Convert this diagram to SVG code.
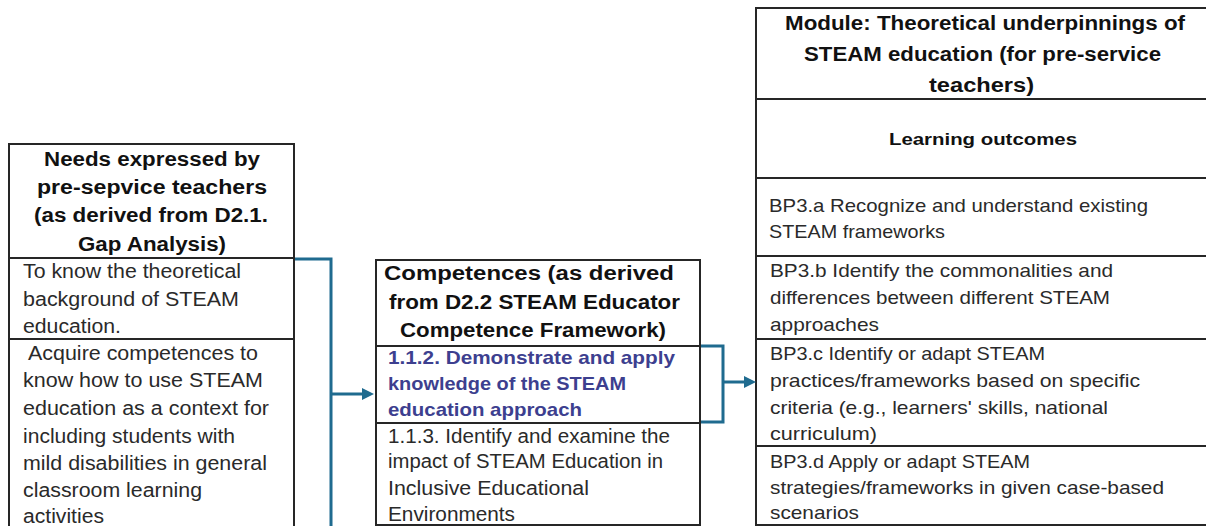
<svg xmlns="http://www.w3.org/2000/svg" width="1206" height="526" viewBox="0 0 1206 526">
<defs>
<style>
.box{fill:#fff;stroke:#262626;stroke-width:2}
.div{stroke:#262626;stroke-width:2}
.hb{font-family:"Liberation Sans",Arial,sans-serif;font-weight:bold;font-size:20px;fill:#111;text-anchor:start}
.lo{font-family:"Liberation Sans",Arial,sans-serif;font-weight:bold;font-size:17px;fill:#111}
.tx{font-family:"Liberation Sans",Arial,sans-serif;font-size:19.5px;fill:#2a2a2a}
.tr{font-family:"Liberation Sans",Arial,sans-serif;font-size:18.5px;fill:#2a2a2a}
.bl{font-family:"Liberation Sans",Arial,sans-serif;font-weight:bold;font-size:18.5px;fill:#3d3f8f}
.con{fill:none;stroke:#1f6b8f;stroke-width:3}
</style>
<marker id="arr" markerUnits="userSpaceOnUse" markerWidth="12" markerHeight="12" refX="0" refY="6" orient="auto" viewBox="0 0 12 12">
<path d="M0,0 L12,6 L0,12 z" fill="#1f6b8f"/>
</marker>
</defs>
<rect width="1206" height="526" fill="#fff"/>

<g id="needs">
<rect class="box" x="9" y="144" width="285" height="400"/>
<line class="div" x1="9" y1="258" x2="294" y2="258"/>
<line class="div" x1="9" y1="339" x2="294" y2="339"/>
<text class="hb" x="44" y="166" textLength="216" lengthAdjust="spacingAndGlyphs">Needs expressed by</text>
<text class="hb" x="37" y="194" textLength="230" lengthAdjust="spacingAndGlyphs">pre-sepvice teachers</text>
<text class="hb" x="34" y="222" textLength="234" lengthAdjust="spacingAndGlyphs">(as derived from D2.1.</text>
<text class="hb" x="78" y="251" textLength="148" lengthAdjust="spacingAndGlyphs">Gap Analysis)</text>
<text class="tx" x="23" y="278" textLength="218" lengthAdjust="spacingAndGlyphs">To know the theoretical</text>
<text class="tx" x="23" y="306" textLength="216" lengthAdjust="spacingAndGlyphs">background of STEAM</text>
<text class="tx" x="23" y="333" textLength="98" lengthAdjust="spacingAndGlyphs">education.</text>
<text class="tx" x="28" y="360" textLength="230" lengthAdjust="spacingAndGlyphs">Acquire competences to</text>
<text class="tx" x="23" y="387" textLength="240" lengthAdjust="spacingAndGlyphs">know how to use STEAM</text>
<text class="tx" x="23" y="415" textLength="246" lengthAdjust="spacingAndGlyphs">education as a context for</text>
<text class="tx" x="23" y="443" textLength="212" lengthAdjust="spacingAndGlyphs">including students with</text>
<text class="tx" x="23" y="470" textLength="244" lengthAdjust="spacingAndGlyphs">mild disabilities in general</text>
<text class="tx" x="23" y="497" textLength="179" lengthAdjust="spacingAndGlyphs">classroom learning</text>
<text class="tx" x="23" y="523" textLength="81" lengthAdjust="spacingAndGlyphs">activities</text>
</g>

<g id="competences">
<rect class="box" x="376" y="260" width="324" height="265"/>
<line class="div" x1="376" y1="346" x2="700" y2="346"/>
<line class="div" x1="376" y1="423" x2="700" y2="423"/>
<text class="hb" x="384" y="280" textLength="290" lengthAdjust="spacingAndGlyphs">Competences (as derived</text>
<text class="hb" x="389" y="309" textLength="291" lengthAdjust="spacingAndGlyphs">from D2.2 STEAM Educator</text>
<text class="hb" x="400" y="337" textLength="266" lengthAdjust="spacingAndGlyphs">Competence Framework)</text>
<text class="bl" x="388" y="364" textLength="287" lengthAdjust="spacingAndGlyphs">1.1.2. Demonstrate and apply</text>
<text class="bl" x="388" y="390" textLength="238" lengthAdjust="spacingAndGlyphs">knowledge of the STEAM</text>
<text class="bl" x="388" y="416" textLength="194" lengthAdjust="spacingAndGlyphs">education approach</text>
<text class="tx" x="388" y="443" textLength="282" lengthAdjust="spacingAndGlyphs">1.1.3. Identify and examine the</text>
<text class="tx" x="388" y="468" textLength="275" lengthAdjust="spacingAndGlyphs">impact of STEAM Education in</text>
<text class="tx" x="388" y="495" textLength="201" lengthAdjust="spacingAndGlyphs">Inclusive Educational</text>
<text class="tx" x="388" y="521" textLength="127" lengthAdjust="spacingAndGlyphs">Environments</text>
</g>

<g id="module">
<rect class="box" x="756" y="8" width="470" height="517"/>
<line class="div" x1="756" y1="99" x2="1206" y2="99"/>
<line class="div" x1="756" y1="178" x2="1206" y2="178"/>
<line class="div" x1="756" y1="256" x2="1206" y2="256"/>
<line class="div" x1="756" y1="339" x2="1206" y2="339"/>
<line class="div" x1="756" y1="446" x2="1206" y2="446"/>
<text class="hb" x="785" y="30" textLength="400" lengthAdjust="spacingAndGlyphs">Module: Theoretical underpinnings of</text>
<text class="hb" x="804" y="61" textLength="357" lengthAdjust="spacingAndGlyphs">STEAM education (for pre-service</text>
<text class="hb" x="929" y="92" textLength="105" lengthAdjust="spacingAndGlyphs">teachers)</text>
<text class="lo" x="889" y="145" textLength="188" lengthAdjust="spacingAndGlyphs">Learning outcomes</text>
<text class="tr" x="769" y="212" textLength="379" lengthAdjust="spacingAndGlyphs">BP3.a Recognize and understand existing</text>
<text class="tr" x="769" y="238" textLength="176" lengthAdjust="spacingAndGlyphs">STEAM frameworks</text>
<text class="tr" x="770" y="277" textLength="343" lengthAdjust="spacingAndGlyphs">BP3.b Identify the commonalities and</text>
<text class="tr" x="770" y="304" textLength="340" lengthAdjust="spacingAndGlyphs">differences between different STEAM</text>
<text class="tr" x="770" y="331" textLength="109" lengthAdjust="spacingAndGlyphs">approaches</text>
<text class="tr" x="770" y="360" textLength="275" lengthAdjust="spacingAndGlyphs">BP3.c Identify or adapt STEAM</text>
<text class="tr" x="770" y="387" textLength="370" lengthAdjust="spacingAndGlyphs">practices/frameworks based on specific</text>
<text class="tr" x="770" y="414" textLength="338" lengthAdjust="spacingAndGlyphs">criteria (e.g., learners' skills, national</text>
<text class="tr" x="770" y="440" textLength="107" lengthAdjust="spacingAndGlyphs">curriculum)</text>
<text class="tr" x="770" y="468" textLength="260" lengthAdjust="spacingAndGlyphs">BP3.d Apply or adapt STEAM</text>
<text class="tr" x="770" y="494" textLength="394" lengthAdjust="spacingAndGlyphs">strategies/frameworks in given case-based</text>
<text class="tr" x="770" y="519" textLength="89" lengthAdjust="spacingAndGlyphs">scenarios</text>
</g>

<g id="connectors">
<path class="con" d="M295,259 H331 V530"/>
<path class="con" d="M331,394 H362" marker-end="url(#arr)"/>
<path class="con" d="M701,346 H723 V422 H701"/>
<path class="con" d="M723,382 H744" marker-end="url(#arr)"/>
</g>
</svg>
